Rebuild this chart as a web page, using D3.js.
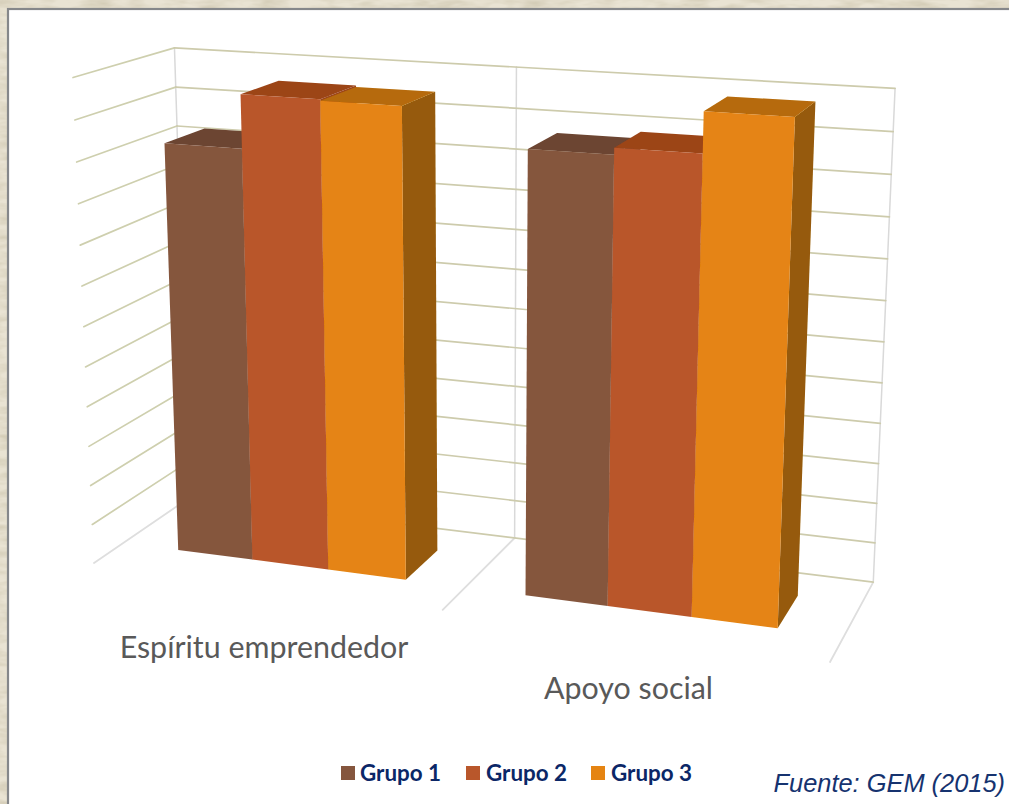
<!DOCTYPE html>
<html><head><meta charset="utf-8">
<style>html,body{margin:0;padding:0;background:#fff;overflow:hidden}svg{display:block}</style>
<script src="https://cdnjs.cloudflare.com/ajax/libs/d3/7.9.0/d3.min.js"></script>
</head><body>
<svg id="c" width="1009" height="804"></svg>
<script>
const categories = ["Espíritu emprendedor", "Apoyo social"];
const seriesNames = ["Grupo 1", "Grupo 2", "Grupo 3"];
const grupo1 = [51.4, 53.7];
const grupo2 = [57.9, 54.5];
const grupo3 = [57.7, 59.2];
const axisTicks = d3.range(0, 61, 5);
const frontColors = ["#85563e", "#b9572b", "#e58412"];
const topColors = ["#6c4430", "#9c4419", "#b66a08"];
const sideColors = ["#6c4430", "#9c4419", "#965a08"];

const series = [grupo1, grupo2, grupo3];
const W = 1009, H = 804;
const svg = d3.select("#c");

// --- perspective camera: unit box (u across, v up, w into the picture) -> screen
const VP = {u:[-6545,-330], v:[480,9486], w:[1348,-295]};
const origin = [94,563], k = {u:-0.0998, v:-0.0516, w:0.082};
function project(u,v,w){
  const d = 1 + k.u*u + k.v*v + k.w*w;
  return [
    (origin[0] + k.u*u*VP.u[0] + k.v*v*VP.v[0] + k.w*w*VP.w[0]) / d,
    (origin[1] + k.u*u*VP.u[1] + k.v*v*VP.v[1] + k.w*w*VP.w[1]) / d
  ];
}
const uCat = d3.scaleBand().domain(categories).range([0,1]).paddingInner(1/3).paddingOuter(1/6);
const uSer = d3.scaleBand().domain(seriesNames).range([0,uCat.bandwidth()]);
const vVal = d3.scaleLinear().domain([0,60]).range([0,1]);
const wBar = [0.295, 0.71];
const poly = pts => d3.line()(pts)+"Z";

// --- background
const defs = svg.append("defs");
const f = defs.append("filter").attr("id","paper").attr("x",0).attr("y",0).attr("width","100%").attr("height","100%");
f.append("feTurbulence").attr("type","fractalNoise").attr("baseFrequency","0.035 0.12").attr("numOctaves",3).attr("seed",4);
f.append("feColorMatrix").attr("type","matrix").attr("values","0 0 0 0 0.55  0 0 0 0 0.50  0 0 0 0 0.36  1.1 0 0 0 -0.38");
const soft = defs.append("filter").attr("id","soft").attr("x","-2%").attr("y","-2%").attr("width","104%").attr("height","104%");
soft.append("feGaussianBlur").attr("stdDeviation",0.55);
svg.append("rect").attr("width",W).attr("height",H).attr("fill","#e9e3d3");
svg.append("rect").attr("width",W).attr("height",H).attr("fill","#000").attr("filter","url(#paper)");
svg.append("rect").attr("x",8).attr("y",9).attr("width",W+20).attr("height",H+20)
  .attr("fill","#fff").attr("stroke","#85878a").attr("stroke-width",2.2);

// --- walls
const grid = svg.append("g").attr("fill","none").attr("stroke-linecap","round").attr("filter","url(#soft)");
const seg = (a,b,c,w)=>grid.append("path").attr("d",d3.line()([a,b])).attr("stroke",c).attr("stroke-width",w);
[0,0.5,1].forEach(u=>{
  seg(project(u,0,1),project(u,1,1),"#d9d9d9",1.5);
  seg(project(u,0,0),project(u,0,1),"#dedede",1.8);
});
axisTicks.forEach(t=>{
  const v = vVal(t);
  if(t>0) seg(project(0,v,0),project(0,v,1),"#cecfae",1.7);
  seg(project(0,v,1),project(1,v,1),"#cdcbac",1.7);
});

// --- bars
const gBars = svg.append("g").attr("filter","url(#soft)");
categories.forEach((cat,ci)=>{
  seriesNames.forEach((name,si)=>{
    const u0 = uCat(cat)+uSer(name), u1 = u0+uSer.bandwidth(), v = vVal(series[si][ci]);
    const [w0,w1] = wBar;
    const g = gBars.append("g");
    g.append("path").attr("fill",sideColors[si]).attr("d",poly([project(u1,0,w0),project(u1,0,w1),project(u1,v,w1),project(u1,v,w0)]));
    g.append("path").attr("fill",topColors[si]).attr("d",poly([project(u0,v,w0),project(u1,v,w0),project(u1,v,w1),project(u0,v,w1)]));
    g.append("path").attr("fill",frontColors[si]).attr("d",poly([project(u0,0,w0),project(u1,0,w0),project(u1,v,w0),project(u0,v,w0)]));
  });
});

// --- category labels
const catPos = [[264,658],[628.5,699]];
svg.append("g").selectAll("text").data(categories).join("text")
  .attr("x",(d,i)=>catPos[i][0]).attr("y",(d,i)=>catPos[i][1]).attr("text-anchor","middle")
  .attr("font-family","Lato, 'Open Sans', sans-serif").attr("font-size",30.4).attr("fill","#595959").text(d=>d);

// --- legend
const legendX = [341,466,591], legendLabelX=[360,486,611];
const lg = svg.append("g");
seriesNames.forEach((n,i)=>{
  lg.append("rect").attr("x",legendX[i]).attr("y",766).attr("width",14).attr("height",14).attr("fill",frontColors[i]);
  lg.append("text").attr("x",legendLabelX[i]).attr("y",780.5).attr("font-family","Lato, sans-serif")
    .attr("font-weight",700).attr("font-size",22.4).attr("fill","#0b2767").text(n);
});
svg.append("text").attr("x",1005).attr("y",791.5).attr("text-anchor","end")
  .attr("font-family","'Liberation Sans', Arial, sans-serif").attr("font-style","italic").attr("font-size",25.4)
  .attr("fill","#16336f").text("Fuente: GEM (2015)");
</script>
</body></html>
